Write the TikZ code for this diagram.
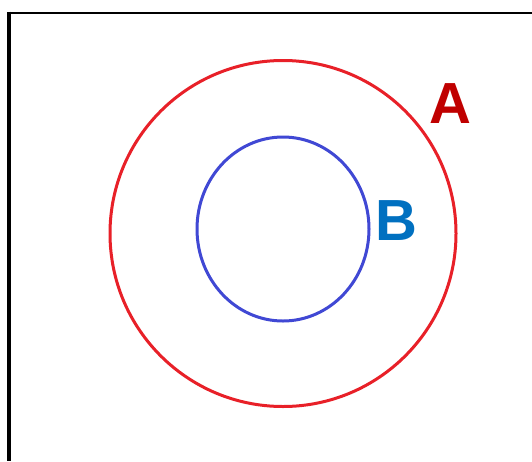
\documentclass[tikz,border=0pt]{standalone}
\usepackage{fontspec}
\setmainfont{Liberation Sans}
\usetikzlibrary{shapes.geometric}
\definecolor{ringred}{RGB}{232,32,40}
\definecolor{labred}{RGB}{192,0,0}
\definecolor{ringblue}{RGB}{64,72,212}
\definecolor{labblue}{RGB}{0,112,192}
\begin{document}
\begin{tikzpicture}[x=1pt,y=-1pt,
  ring/.style={line width=3pt},
  lab/.style={font=\bfseries\fontsize{58}{58}\selectfont, inner sep=0pt, anchor=base west}]
\useasboundingbox (0,0) rectangle (532,461);
\fill[white] (0,0) rectangle (532,461);
\coordinate (tl) at (9,12.5);
\coordinate (tr) at (532,12.5);
\coordinate (bl) at (9,461);
\draw[line width=2pt] (tl) -- (tr);
\draw[line width=4pt] (9,11.5) -- (bl);
\node[ring, draw=ringred, circle, minimum size=346pt, inner sep=0pt] (A) at (283,233.5) {};
\node[ring, draw=ringblue, ellipse, minimum width=172pt, minimum height=184pt, inner sep=0pt] (B) at (283,229) {};
\node[lab, text=labred] (la) at (429,123) {A};
\node[lab, text=labblue] (lb) at (375,240) {B};
\end{tikzpicture}
\end{document}
